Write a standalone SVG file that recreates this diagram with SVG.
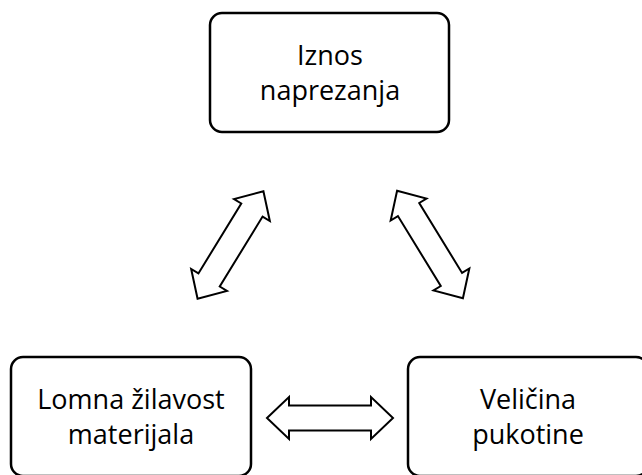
<svg xmlns="http://www.w3.org/2000/svg" xmlns:xlink="http://www.w3.org/1999/xlink" width="642" height="475" viewBox="0 0 642 475">
<style>
.box{fill:#fff;stroke:#000;stroke-width:2.5}
.lbl{font-family:"Open Sans","Noto Sans",sans-serif;font-size:27px;fill:#000;text-anchor:middle}
.arr{fill:#fff;stroke:#000;stroke-width:2;stroke-linejoin:miter}
</style>
<defs>
<polygon id="dbl" points="-63,0 -41,-21 -41,-12.5 41,-12.5 41,-21 63,0 41,21 41,12.5 -41,12.5 -41,21"/>
</defs>
<rect width="642" height="475" fill="#fff"/>
<g id="connectors">
<use xlink:href="#dbl" class="arr" transform="translate(230.5,245) rotate(-58.5)"/>
<use xlink:href="#dbl" class="arr" transform="translate(430,244.5) rotate(58.5)"/>
<use xlink:href="#dbl" class="arr" transform="translate(330,418)"/>
</g>
<g id="iznos">
<rect class="box" x="210" y="13" width="239" height="119" rx="12"/>
<text class="lbl" x="330" y="65">Iznos</text>
<text class="lbl" x="330" y="100">naprezanja</text>
</g>
<g id="lomna">
<rect class="box" x="11" y="357" width="240" height="119" rx="12"/>
<text class="lbl" x="131" y="409">Lomna žilavost</text>
<text class="lbl" x="131" y="444">materijala</text>
</g>
<g id="velicina">
<rect class="box" x="408" y="357" width="240" height="119" rx="12"/>
<text class="lbl" x="528" y="409">Veličina</text>
<text class="lbl" x="528" y="444">pukotine</text>
</g>
</svg>
